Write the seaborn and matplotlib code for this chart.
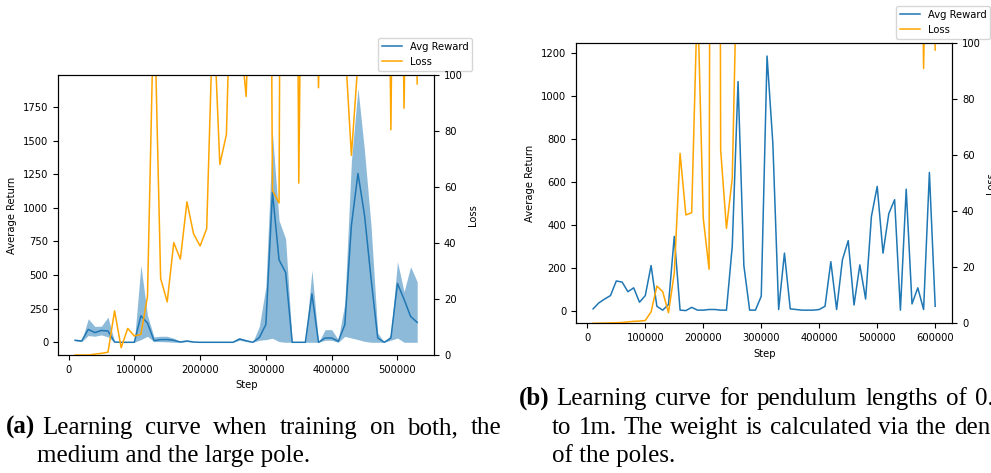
import numpy as np
import pandas as pd
import matplotlib
matplotlib.use("Agg")
import matplotlib.pyplot as plt
import seaborn as sns
from matplotlib.lines import Line2D

# ---------------- data: panel (a) ----------------
steps_a = [10000, 20000, 30000, 40000, 50000, 60000, 70000, 80000, 90000, 100000,
           110000, 120000, 130000, 140000, 150000, 160000, 170000, 180000, 190000, 200000,
           210000, 220000, 230000, 240000, 250000, 260000, 270000, 280000, 290000, 300000,
           310000, 320000, 330000, 340000, 350000, 360000, 370000, 380000, 390000, 400000,
           410000, 420000, 430000, 440000, 450000, 460000, 470000, 480000, 490000, 500000,
           510000, 520000, 530000]
reward_a = [15, 10, 96, 72, 88, 84, 2, 0, 0, 0,
            197, 143, 12, 20, 20, 15, 2, 10, 2, 0,
            0, 0, 0, 0, 0, 25, 12, 0, 35, 133,
            1117, 613, 519, 0, 0, 0, 360, 0, 32, 32,
            7, 130, 870, 1256, 943, 468, 32, 0, 32, 438,
            320, 192, 148]
reward_a_low = [10, 5, 50, 45, 55, 40, 0, 0, 0, 0,
                20, 44, 5, 5, 3, 0, 0, 5, 0, 0,
                0, 0, 0, 0, 0, 15, 5, 0, 15, 20,
                30, 5, 0, 0, 0, 0, 0, 0, 15, 15,
                0, 44, 32, 20, 7, 0, 0, 0, 15, 32,
                0, 0, 0]
reward_a_high = [18, 12, 175, 118, 120, 187, 5, 0, 0, 0,
                 573, 200, 40, 45, 45, 30, 5, 15, 3, 0,
                 0, 0, 0, 0, 0, 32, 15, 0, 118, 414,
                 1550, 906, 770, 0, 0, 0, 537, 0, 94, 94,
                 20, 290, 1350, 1890, 1420, 857, 69, 0, 57, 600,
                 377, 562, 450]
loss_a = [0, 0, 0, 0.3, 0.6, 1.0, 15.8, 2.6, 9.5, 6.8,
          7.4, 20.8, 130, 27.4, 19, 40.2, 34.3, 54.8, 43.4, 39,
          45.2, 125, 68.2, 78.9, 165, 117, 92.5, 167, 250, 450,
          58.9, 54.4, 600, 450, 61.5, 290, 200, 95.6, 200, 250,
          200, 112, 71.4, 105, 200, 300, 250, 300, 80.6, 300,
          88.3, 250, 97]

# ---------------- data: panel (b) ----------------
steps_b = [10000, 20000, 30000, 40000, 50000, 60000, 70000, 80000, 90000, 100000,
           110000, 120000, 130000, 140000, 150000, 160000, 170000, 180000, 190000, 200000,
           210000, 220000, 230000, 240000, 250000, 260000, 270000, 280000, 290000, 300000,
           310000, 320000, 330000, 340000, 350000, 360000, 370000, 380000, 390000, 400000,
           410000, 420000, 430000, 440000, 450000, 460000, 470000, 480000, 490000, 500000,
           510000, 520000, 530000, 540000, 550000, 560000, 570000, 580000, 590000, 600000]
reward_b = [8, 36, 54, 70, 138, 133, 88, 106, 39, 70,
            210, 20, 2, 28, 346, 2, 0, 15, 2, 2,
            5, 5, 2, 2, 300, 1068, 210, 2, 2, 67,
            1187, 780, 5, 268, 8, 5, 2, 2, 2, 5,
            20, 228, 5, 237, 326, 26, 213, 54, 439, 579,
            268, 452, 517, 2, 566, 31, 106, 5, 644, 20]
loss_b = [0, 0.05, 0.1, 0.15, 0.2, 0.3, 0.5, 0.7, 0.8, 1.0,
          4.1, 13.3, 11.3, 3.8, 17.9, 60.7, 38.7, 39.5, 118, 37.5,
          19.3, 900, 61.9, 33.9, 51.8, 148, 300, 400, 350, 300,
          450, 400, 350, 300, 280, 320, 300, 260, 300, 350,
          300, 280, 320, 300, 350, 300, 280, 300, 320, 300,
          280, 300, 260, 300, 280, 300, 250, 91, 200, 97.6]

caption_a_tag = "(a)"
caption_a_lines = ["Learning curve when training on both, the", "medium and the large pole."]
caption_b_tag = "(b)"
caption_b_lines = ["Learning curve for pendulum lengths of 0.5m",
                   "to 1m. The weight is calculated via the density", "of the poles."]

BLUE = "#1f77b4"
ORANGE = "orange"

plt.rcParams["font.family"] = ["DejaVu Sans"]
plt.rcParams["font.size"] = 7.2

W, H = 991, 473
fig = plt.figure(figsize=(W / 100, H / 100), dpi=100)


def px_axes(l, t, r, b):
    return fig.add_axes([l / W, 1 - b / H, (r - l) / W, (b - t) / H])


def panel(ax, steps, reward, loss, low=None, high=None):
    df = pd.DataFrame({"Step": steps, "reward": reward, "loss": loss})
    if low is not None:
        ax.fill_between(steps, low, high, color=BLUE, alpha=0.5, linewidth=0)
    sns.lineplot(data=df, x="Step", y="reward", ax=ax, color=BLUE, linewidth=1.1,
                 legend=False)
    ax.set_ylabel("Average Return")
    ax.set_xlabel("Step")
    ax2 = ax.twinx()
    sns.lineplot(data=df, x="Step", y="loss", ax=ax2, color=ORANGE, linewidth=1.1,
                 legend=False)
    ax2.set_ylim(0, 100)
    ax2.set_ylabel("Loss")
    return ax2


axA = px_axes(58, 75.5, 434.3, 355)
panel(axA, steps_a, reward_a, loss_a, reward_a_low, reward_a_high)
axB = px_axes(576, 43.3, 952.3, 323.3)
panel(axB, steps_b, reward_b, loss_b)

handles = [Line2D([], [], color=BLUE, linewidth=1.1), Line2D([], [], color=ORANGE, linewidth=1.1)]
labels = ["Avg Reward", "Loss"]
for ax, (lx, by) in ((axA, (377.7, 71)), (axB, (895.7, 39))):
    ax.legend(handles, labels, loc="lower left", bbox_to_anchor=(lx / W, 1 - by / H),
              bbox_transform=fig.transFigure, borderaxespad=0)

# ---------------- captions ----------------
serif = ["Liberation Serif", "DejaVu Serif"]
cap_fs = 18
renderer = fig.canvas.get_renderer()


def put(x, y, s, ha="left", **kw):
    return fig.text(x / W, 1 - y / H, s, ha=ha, va="baseline", fontsize=cap_fs,
                    family=serif, **kw)


def justified(line, x0, x1, y):
    words = line.split(" ")
    texts = [put(x0, y, w) for w in words]
    widths = [t.get_window_extent(renderer).width for t in texts]
    gap = (x1 - x0 - sum(widths)) / max(len(words) - 1, 1)
    x = x0
    for t, w in zip(texts, widths):
        t.set_x(x / W)
        x += w + gap


put(35.5, 434, caption_a_tag, ha="right", fontweight="bold")
justified(caption_a_lines[0], 42, 501, 434)
put(37, 462, caption_a_lines[1])

put(549.5, 405, caption_b_tag, ha="right", fontweight="bold")
justified(caption_b_lines[0], 556, 1026, 405)
justified(caption_b_lines[1], 552, 1026, 434)
put(552, 462, caption_b_lines[2])

fig.savefig("out.png", dpi=100)
